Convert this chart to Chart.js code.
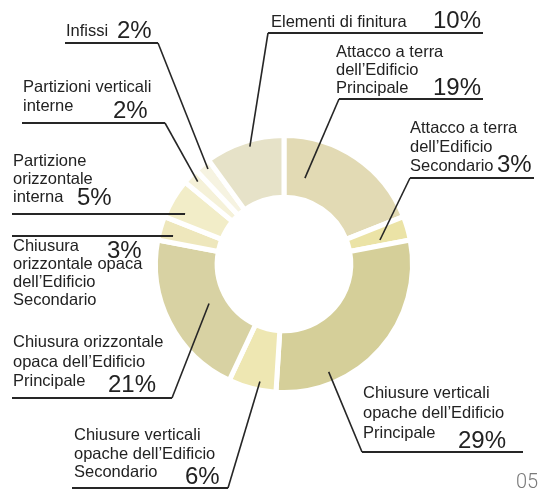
<!DOCTYPE html>
<html>
<head>
<meta charset="utf-8">
<script src="https://cdn.jsdelivr.net/npm/chart.js@4.4.1/dist/chart.umd.min.js"></script>
<style>
html, body { margin: 0; padding: 0; background: #fff; }
canvas { display: block; }
</style>
</head>
<body>
<canvas id="myChart" width="546" height="491"></canvas>
<script>
// slices, clockwise from 12 o'clock
var categories = [
  ['Attacco a terra', 'dell\u2019Edificio', 'Principale'],
  ['Attacco a terra', 'dell\u2019Edificio', 'Secondario'],
  ['Chiusure verticali', 'opache dell\u2019Edificio', 'Principale'],
  ['Chiusure verticali', 'opache dell\u2019Edificio', 'Secondario'],
  ['Chiusura orizzontale', 'opaca dell\u2019Edificio', 'Principale'],
  ['Chiusura', 'orizzontale opaca', 'dell\u2019Edificio', 'Secondario'],
  ['Partizione', 'orizzontale', 'interna'],
  ['Partizioni verticali', 'interne'],
  ['Infissi'],
  ['Elementi di finitura']
];
var values = [19, 3, 29, 6, 21, 3, 5, 2, 2, 10];

var sliceColors = ['#e2dab4', '#ebe3a6', '#d5cf99', '#eee7b2', '#d8d2a3',
                   '#eee7bc', '#f2edc8', '#f5f1d8', '#f6f3e1', '#e6e2c8'];

// where each callout sits: text, percent, underline, and where the leader hits the slice
// t = position along the slice angle, f = position across the ring
var labelLayout = [
  { tx: 336, ty: 57,  lh: 18,   px: 433, py: 95,  ul: [339, 483, 99],  side: 'l', t: 0.2,  f: 0.35 },
  { tx: 410, ty: 133, lh: 19,   px: 497, py: 172, ul: [410, 534, 178], side: 'l', t: 0.7,  f: 0.52 },
  { tx: 363, ty: 398, lh: 20,   px: 458, py: 448, ul: [362, 523, 452], side: 'l', t: 0.75, f: 0.81 },
  { tx: 74,  ty: 440, lh: 18.5, px: 185, py: 484, ul: [72, 228, 488],  side: 'r', t: 0.37, f: 0.86 },
  { tx: 13,  ty: 347, lh: 19.5, px: 108, py: 392, ul: [12, 172, 398],  side: 'r', t: 0.49, f: 0.29 },
  { tx: 13,  ty: 251, lh: 18,   px: 107, py: 258, ul: [12, 173, 236],  side: 'r', t: 0.31, f: 0.77 },
  { tx: 13,  ty: 166, lh: 18,   px: 77,  py: 205, ul: [12, 185, 214],  side: 'r', t: 0.29, f: 0.72 },
  { tx: 23,  ty: 92,  lh: 19,   px: 113, py: 118, ul: [22, 165, 123],  side: 'r', t: 0.56, f: 0.85 },
  { tx: 66,  ty: 36,  lh: 18,   px: 117, py: 38,  ul: [65, 158, 43],   side: 'r', t: 0.63, f: 0.89 },
  { tx: 271, ty: 27,  lh: 18,   px: 433, py: 28,  ul: [268, 483, 33],  side: 'l', t: 0.55, f: 0.9 }
];

var calloutPlugin = {
  id: 'callouts',
  afterDatasetsDraw: function(chart) {
    var c = chart.ctx;
    var arcs = chart.getDatasetMeta(0).data;
    c.save();
    c.textBaseline = 'alphabetic';
    arcs.forEach(function(arc, i) {
      var L = labelLayout[i];
      var p = arc.getProps(['x', 'y', 'startAngle', 'endAngle', 'innerRadius', 'outerRadius'], true);
      var a = p.startAngle + L.t * (p.endAngle - p.startAngle);
      var r = p.innerRadius + L.f * (p.outerRadius - p.innerRadius);
      var ax = p.x + Math.cos(a) * r;
      var ay = p.y + Math.sin(a) * r;

      c.strokeStyle = '#262626';
      c.lineWidth = 2;
      c.beginPath();
      c.moveTo(L.ul[0], L.ul[2]);
      c.lineTo(L.ul[1], L.ul[2]);
      c.stroke();

      var ex = L.side == 'l' ? L.ul[0] : L.ul[1];
      c.lineWidth = 1.6;
      c.beginPath();
      c.moveTo(ex, L.ul[2]);
      c.lineTo(ax, ay);
      c.stroke();

      c.fillStyle = '#222222';
      c.font = '16.5px "Liberation Sans", Arial, sans-serif';
      categories[i].forEach(function(line, k) {
        c.fillText(line, L.tx, L.ty + k * L.lh);
      });
      c.font = '24px "Liberation Sans", Arial, sans-serif';
      c.fillText(values[i] + '%', L.px, L.py);
    });
    // page number
    c.font = '300 20px Roboto, sans-serif';
    c.fillStyle = '#7a7a7a';
    c.fillText('05', 516, 488);
    c.restore();
  }
};

var ctx = document.getElementById('myChart').getContext('2d');
var myChart = new Chart(ctx, {
  type: 'doughnut',
  data: {
    labels: categories,
    datasets: [{
      data: values,
      backgroundColor: sliceColors,
      borderColor: '#ffffff',
      borderWidth: 5
    }]
  },
  options: {
    responsive: false,
    animation: false,
    cutout: '52%',
    layout: { padding: { left: 153, right: 131, top: 133, bottom: 96 } },
    plugins: {
      legend: { display: false },
      tooltip: { enabled: false }
    }
  },
  plugins: [calloutPlugin]
});
</script>
</body>
</html>
